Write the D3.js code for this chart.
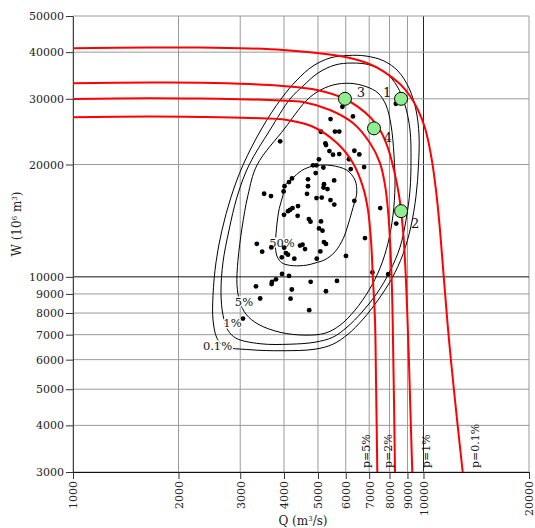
<!DOCTYPE html>
<html><head><meta charset="utf-8">
<script src="https://cdn.jsdelivr.net/npm/d3@7"></script>
<style>body{margin:0;background:#fff}svg{display:block}</style>
</head><body><svg id="c" width="535" height="528"></svg>
<script>
const xTicks=[1000,2000,3000,4000,5000,6000,7000,8000,9000,10000,20000];
const yTicks=[3000,4000,5000,6000,7000,8000,9000,10000,20000,30000,40000,50000];

// observed flood events (peak Q m3/s, volume W 10^6 m3)
const obsQ=[5870,8340,5430,6290,5100,5590,5750,3900,5250,5270,5390,5520,5750,6350,6560,6130,6770,5030,4840,4950,5180,6200,4925,4215,4133,4013,4683,5560,5200,4683,5184,5321,3510,3672,3990,4653,4951,5125,5428,5565,6350,7526,4385,4230,4160,4106,4000,4375,4710,4760,5100,8360,5033,5150,6808,5200,5269,3346,3465,3680,4005,4053,4106,3942,4280,4443,4517,4592,5078,4960,6009,7150,7932,3948,4133,3795,3697,3687,3327,4210,4765,5664,5269,3420,4175,4720,3055];
const obsW=[28560,29100,26470,26910,24480,24500,24500,23070,22790,22550,21730,21250,21330,21770,21290,20660,19690,20650,19900,19900,19630,19450,18970,18360,17950,17500,18250,18130,17720,17490,17350,17190,16700,16460,16940,16690,16260,16310,16060,15620,15990,15290,15480,15290,15110,15000,14660,14570,14280,14060,14080,13890,13480,13300,12700,12390,12250,12260,11680,11990,11970,11580,11470,11280,11190,12130,12200,11870,11700,11190,11380,10280,10170,10180,10060,9850,9700,9570,9430,9250,9700,9750,9150,8750,8740,8140,7730];

// "OR" return-period curves
const p01Q=[1000,1659,2303,3199,3974,4967,6170,6900,7665,8570,9153,9646,10099,10505,10856,11146,11443,11826,12301,12937];
const p01W=[40970,41170,41170,40920,40540,39800,38590,37410,35600,32860,30520,27990,25050,21200,17080,13340,9800,6765,4671,3000];
const p1Q=[1000,1659,2303,3199,3974,4967,5970,7037,7515,7920,8238,8513,8740,8885,9004,9123,9212,9291];
const p1W=[33010,33160,33130,32860,32460,31670,29960,26820,24750,22130,19320,16560,13340,10420,7660,5285,3883,3000];
const p2Q=[1000,1659,2303,3199,3896,4532,5411,6291,7037,7515,7767,7920,8025,8131,8185,8238,8293];
const p2W=[29960,30090,30040,29870,29690,29410,27990,25830,22830,20180,17610,15100,12540,9210,6765,4671,3000];
const p5Q=[1000,1659,2303,3199,4079,4838,5664,6291,6720,6945,7083,7177,7272,7320,7383];
const p5W=[26770,26890,26820,26650,26330,25250,22830,20180,17400,15100,12540,9800,7660,5285,3000];
const pLabels=["p=5%","p=2%","p=1%","p=0.1%"];
const pLabelQ=[7037,8131,10435,14400];

// joint-probability contours (closed)
const c01Q=[3922,3462,3055,2824,2661,2559,2509,2509,2575,2697,3199,3974,4902,5517,6090,6720,7417,8131,8740,9212,9520,9677,9710,9520,9091,8458,7715,6855,6090,5411,4838,4356];
const c01W=[29960,25050,19930,16360,13340,10950,8930,7660,6850,6520,6380,6340,6400,6600,7020,7700,8665,9920,11500,13680,16460,19930,23990,27990,32060,35600,37880,39060,39190,38590,36720,33690];
const c1Q=[4160,3648,3178,2937,2787,2679,2644,2679,2768,2917,3417,4160,4902,5517,6050,6677,7368,8025,8570,8915,9153,9212,9153,8856,8403,7816,7037,6252,5590,5000,4532];
const c1W=[29960,24750,19930,16360,13340,10950,9100,7895,7195,6850,6620,6600,6683,6893,7330,8045,9040,10360,12010,14190,17080,20550,24750,28870,32460,35170,36950,37410,36950,35170,32460];
const c5Q=[4592,4026,3350,3157,3035,2956,2937,2995,3116,3372,3896,4592,5236,5778,6375,6991,7515,7920,8185,8293,8238,8078,7816,7417,6855,6170,5517,4967];
const c5W=[29410,25050,19930,16560,13510,11080,9500,8555,7945,7470,7105,6980,7063,7420,8140,9210,10550,12310,14640,17610,21200,25520,28870,31090,32350,33010,32660,31270];
const c50Q=[3974,4026,4207,4494,4830,5168,5483,6039,6375,6449,6346,6241,6090,5905,5590,5236,4902,4643,4252,4053,3940,3828,3783,3808,3878];
const c50W=[16560,17610,18280,19270,19810,19930,19870,19320,18170,16770,15760,14910,13770,12680,11670,11120,10890,10750,10710,10790,10910,11310,11940,13510,15260];
const contourLabels=["50%","5%","1%","0.1%"];
const contourLabelQ=[3948,3075,2851,2584];
const contourLabelW=[12310,8570,7527,6520];

// design events
const evQ=[8630,8630,5970,7225];
const evW=[30000,15000,30000,25000];
const evNames=["1","2","3","4"];

const svg=d3.select("#c");
const L=73,T=16,S=456;
const x=d3.scaleLog().domain([1000,20000]).range([L,L+S]);
const y=d3.scaleLog().domain([3000,50000]).range([T+S,T]);
const font="DejaVu Serif, serif";

// grid
const g=svg.append("g");
xTicks.forEach(v=>g.append("line").attr("x1",x(v)).attr("x2",x(v)).attr("y1",T).attr("y2",T+S)
  .attr("stroke",v===10000?"#222":"#9a9a9a").attr("stroke-width",1));
yTicks.forEach(v=>g.append("line").attr("x1",L).attr("x2",L+S).attr("y1",y(v)).attr("y2",y(v))
  .attr("stroke",v===10000?"#111":"#9a9a9a").attr("stroke-width",1));

// axes
const ya=svg.append("g").attr("transform",`translate(${L},0)`)
  .call(d3.axisLeft(y).tickValues(yTicks).tickFormat(d3.format("d")).tickSize(7).tickPadding(2).tickSizeOuter(0));
ya.select(".domain").attr("stroke","#444");
ya.selectAll(".tick line").attr("stroke","#333");
ya.selectAll("text").attr("font-family",font).attr("font-size",11).attr("fill","#222");
const xa=svg.append("g").attr("transform",`translate(0,${T+S})`)
  .call(d3.axisBottom(x).tickValues(xTicks).tickFormat(d3.format("d")).tickSize(7).tickSizeOuter(0));
xa.select(".domain").attr("stroke","#111");
xa.selectAll(".tick line").attr("stroke","#333");
xa.selectAll("text").attr("font-family",font).attr("font-size",11).attr("fill","#222")
  .attr("transform","rotate(-90)").attr("x",-9).attr("y",0).attr("dy","0.36em").attr("text-anchor","end");

// axis titles
svg.append("text").attr("transform",`translate(21,${T+S/2-20}) rotate(-90)`).attr("text-anchor","middle")
  .attr("font-family",font).attr("font-size",12).attr("fill","#222")
  .html('W (10<tspan dy="-4" font-size="7">6</tspan><tspan dy="4"> m</tspan><tspan dy="-4" font-size="7">3</tspan><tspan dy="4">)</tspan>');
svg.append("text").attr("x",303).attr("y",525).attr("text-anchor","middle")
  .attr("font-family",font).attr("font-size",12).attr("fill","#222")
  .html('Q (m<tspan dy="-4" font-size="7">3</tspan><tspan dy="4">/s)</tspan>');

// contours
const closed=d3.line().curve(d3.curveCatmullRomClosed.alpha(0.5)).x(d=>x(d[0])).y(d=>y(d[1]));
[[c01Q,c01W],[c1Q,c1W],[c5Q,c5W],[c50Q,c50W]].forEach(([qs,ws])=>{
  svg.append("path").attr("d",closed(d3.zip(qs,ws))).attr("fill","none").attr("stroke","#000").attr("stroke-width",1);
});
contourLabels.forEach((t,i)=>{
  svg.append("text").attr("x",x(contourLabelQ[i])).attr("y",y(contourLabelW[i])).attr("dy","0.35em")
    .attr("text-anchor","middle").attr("font-family",font).attr("font-size",11.5).attr("fill","#111")
    .attr("stroke","#fff").attr("stroke-width",3).attr("paint-order","stroke").text(t);
});

// observed points
svg.append("g").selectAll("circle").data(d3.zip(obsQ,obsW)).join("circle")
  .attr("cx",d=>x(d[0])).attr("cy",d=>y(d[1])).attr("r",2.4).attr("fill","#000");

// red curves
const open=d3.line().curve(d3.curveCatmullRom.alpha(0.5)).x(d=>x(d[0])).y(d=>y(d[1]));
[[p01Q,p01W],[p1Q,p1W],[p2Q,p2W],[p5Q,p5W]].forEach(([qs,ws])=>{
  svg.append("path").attr("d",open(d3.zip(qs,ws))).attr("fill","none").attr("stroke","#ff0000").attr("stroke-width",2);
});
pLabels.forEach((t,i)=>{
  svg.append("text").attr("transform",`translate(${x(pLabelQ[i])},${y(3000)-4}) rotate(-90)`)
    .attr("font-family",font).attr("font-size",11).attr("fill","#111").text(t);
});

// design events
svg.append("g").selectAll("circle").data(d3.zip(evQ,evW)).join("circle")
  .attr("cx",d=>x(d[0])).attr("cy",d=>y(d[1])).attr("r",6.5)
  .attr("fill","#90ee90").attr("stroke","#000").attr("stroke-width",1);
const evOff=[[-14,-6],[14,12],[16,-6],[14,9]];
evNames.forEach((t,i)=>{
  svg.append("text").attr("x",x(evQ[i])+evOff[i][0]).attr("y",y(evW[i])+evOff[i][1]).attr("dy","0.35em")
    .attr("text-anchor","middle").attr("font-family",font).attr("font-size",13).attr("fill","#111").text(t);
});
</script></body></html>
